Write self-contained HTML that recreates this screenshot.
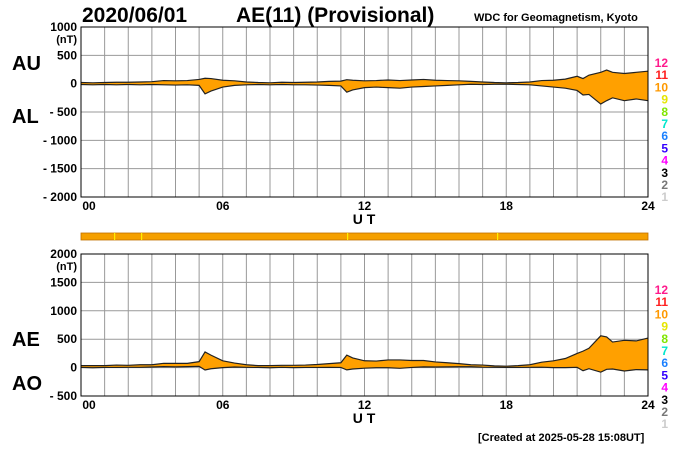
<!DOCTYPE html>
<html><head><meta charset="utf-8"><style>
body{margin:0;background:#fff;width:700px;height:450px;overflow:hidden;font-family:"Liberation Sans",sans-serif}
svg text{font-family:"Liberation Sans",sans-serif;font-weight:bold}
</style></head><body>
<svg id="c" width="700" height="450">
<text x="82" y="22" font-size="21">2020/06/01</text>
<text x="236" y="22" font-size="21">AE(11) (Provisional)</text>
<text x="474" y="21" font-size="11">WDC for Geomagnetism, Kyoto</text>
<text x="12" y="70" font-size="20">AU</text>
<text x="12" y="123" font-size="20">AL</text>
<text x="12" y="346" font-size="20">AE</text>
<text x="12" y="390" font-size="20">AO</text>
<text x="478" y="441" font-size="11">[Created at 2025-05-28 15:08UT]</text>
<rect x="81" y="233" width="567" height="7" fill="#f5a000" stroke="#c07000" stroke-width="0.8"/>
<rect x="114" y="233" width="1.2" height="7" fill="#ffee00"/>
<rect x="141" y="233" width="1.2" height="7" fill="#ffee00"/>
<rect x="347" y="233" width="1.2" height="7" fill="#ffee00"/>
<rect x="497" y="233" width="1.2" height="7" fill="#ffee00"/>
<g id="g"></g>
</svg>
<script>
const hours=[0,0.5,1,1.5,2,2.5,3,3.5,4,4.5,5,5.25,5.5,6,6.5,7,7.5,8,8.5,9,9.5,10,10.5,11,11.25,11.5,12,12.5,13,13.5,14,14.5,15,15.5,16,16.5,17,17.5,18,18.5,19,19.5,20,20.5,21,21.25,21.5,22,22.25,22.5,23,23.5,24];
const auVals=[20,15,20,25,25,30,35,55,50,55,75,95,90,60,50,30,20,15,25,20,25,30,40,45,70,60,50,55,65,55,65,75,60,55,50,40,30,20,15,20,30,55,60,80,130,90,150,200,240,200,180,200,220];
const alVals=[-15,-20,-15,-20,-15,-20,-15,-20,-25,-20,-30,-180,-130,-60,-30,-20,-15,-20,-15,-20,-20,-25,-30,-40,-150,-110,-70,-60,-70,-80,-60,-50,-40,-30,-20,-10,-15,-10,-10,-15,-20,-40,-60,-80,-120,-200,-190,-360,-300,-250,-300,-270,-300];
const topTicks=[1000,500,0,-500,-1000,-1500,-2000];
const botTicks=[2000,1500,1000,500,0,-500];
const xTicks=["00","06","12","18","24"];
const legendNums=["12","11","10","9","8","7","6","5","4","3","2","1"];
const legendCols=["#ff1a8c","#ff2020","#ff9900","#e6e600","#80e600","#00e6cc","#1a80ff","#3300ff","#ff00ff","#000","#777","#ccc"];
const NS="http://www.w3.org/2000/svg",G=document.getElementById('g');
const X0=81,X1=648;
const sx=h=>X0+(X1-X0)*h/24;
function el(t,a){const e=document.createElementNS(NS,t);for(const k in a)e.setAttribute(k,a[k]);G.appendChild(e);return e;}
function panel(top,bot,vmax,vmin,ticks,upper,lower,name){
  const sy=v=>top+(bot-top)*(vmax-v)/(vmax-vmin);
  for(let h=1;h<24;h++){const l=el('line',{x1:sx(h),x2:sx(h),y1:top,y2:bot,stroke:'#999','stroke-width':1});}
  ticks.forEach((v,i)=>{
    if(i>0&&i<ticks.length-1){const l=el('line',{x1:X0,x2:X1,y1:sy(v),y2:sy(v),stroke:'#999','stroke-width':1});}
    const t=el('text',{x:77,y:sy(v)+4,'font-size':12,'text-anchor':'end'});t.textContent=v<0?'- '+(-v):v;
    
  });
  const u=el('text',{x:77,y:sy(ticks[0])+16,'font-size':11,'text-anchor':'end'});u.textContent='(nT)';
  
  const up=hours.map((h,i)=>sx(h)+','+sy(upper[i])),lo=hours.map((h,i)=>sx(h)+','+sy(lower[i])).reverse();
  const f=el('polygon',{points:up.concat(lo).join(' '),fill:'#ffa000',stroke:'none'});
  
  const a=el('polyline',{points:up.join(' '),fill:'none',stroke:'#222','stroke-width':1.2});
  
  const b=el('polyline',{points:lo.join(' '),fill:'none',stroke:'#222','stroke-width':1.2});
  
  const r=el('rect',{x:X0,y:top,width:X1-X0,height:bot-top,fill:'none',stroke:'#000','stroke-width':1});
  
  xTicks.forEach((s,i)=>{const t=el('text',{x:sx(i*6)-(i==0?-8:0),y:bot+13,'font-size':12,'text-anchor':'middle'});t.textContent=s;
    });
  const ut=el('text',{x:364,y:bot+27,'font-size':14,'text-anchor':'middle'});ut.textContent='U T';
  
  legendNums.forEach((s,i)=>{const t=el('text',{x:668,y:top+40+i*12.2,'font-size':12,'text-anchor':'end',fill:legendCols[i]});t.textContent=s;
    });
}
panel(27,197,1000,-2000,topTicks,auVals,alVals,'au-al');
const aeVals=auVals.map((v,i)=>v-alVals[i]);
const aoVals=auVals.map((v,i)=>(v+alVals[i])/2);
panel(254,396,2000,-500,botTicks,aeVals,aoVals,'ae-ao');
</script>
</body></html>
